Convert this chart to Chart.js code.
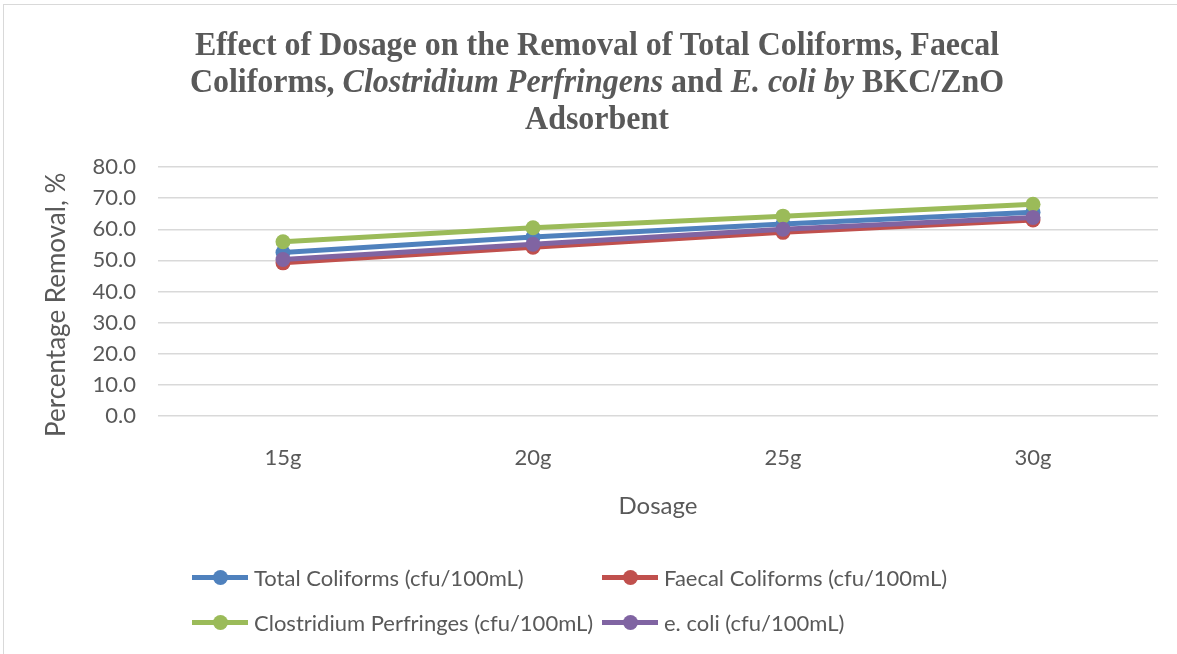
<!DOCTYPE html>
<html>
<head>
<meta charset="utf-8">
<script src="https://cdn.jsdelivr.net/npm/chart.js@4"></script>
<style>
  html, body { margin: 0; padding: 0; background: #fff; }
  #wrap { position: relative; width: 1177px; height: 654px; overflow: hidden; }
  #frame { position: absolute; left: 3px; top: 4px; right: -10px; bottom: -10px;
           border-top: 1.5px solid #d9d9d9; border-left: 1.5px solid #d9d9d9; }
  #chart { position: absolute; left: 0; top: 0; }
  #title { position: absolute; left: 597px; top: 25px; transform: translateX(-50%) scaleX(0.94);
           white-space: nowrap; text-align: center;
           font-family: "Liberation Serif", "Times New Roman", serif; font-weight: bold;
           font-size: 34px; line-height: 37px; color: #595959; }
  #legend { position: absolute; left: 192px; top: 562px; display: grid;
            grid-template-columns: 410px auto; row-gap: 15px;
            font-family: Lato, sans-serif; font-size: 22px; color: #595959; }
  .item { display: flex; align-items: center; height: 30px; white-space: nowrap; }
  .mark { position: relative; width: 56px; height: 5px; margin-right: 6px; }
  .mark .dot { position: absolute; left: 21px; top: -5px; width: 15px; height: 15px; border-radius: 50%; }
</style>
</head>
<body>
<div id="wrap">
  <div id="frame"></div>
  <canvas id="chart" width="1177" height="654"></canvas>
  <div id="title">Effect of Dosage on the Removal of Total Coliforms, Faecal<br>Coliforms, <i>Clostridium Perfringens</i> and <i>E. coli by</i> BKC/ZnO<br>Adsorbent</div>
  <div id="legend"></div>
</div>
<script>
// Dosage categories and percentage removal per organism
const dosages = ['15g', '20g', '25g', '30g'];
const totalColiforms = [52.5, 57.5, 61.7, 65.5];
const faecalColiforms = [49.2, 54.2, 59.0, 63.0];
const clostridium = [56.0, 60.5, 64.2, 68.0];
const eColi = [50.3, 55.2, 60.0, 63.8];

const seriesLabels = [
  'Total Coliforms (cfu/100mL)',
  'Faecal Coliforms (cfu/100mL)',
  'Clostridium Perfringes (cfu/100mL)',
  'e. coli (cfu/100mL)'
];
const seriesColors = ['#4F81BD', '#C0504D', '#9BBB59', '#8064A2'];
const seriesValues = [totalColiforms, faecalColiforms, clostridium, eColi];

const yMin = 0, yMax = 80, yStep = 10;

const textColor = '#595959';
const uiFont = 'Lato, sans-serif';

const datasets = seriesValues.map((vals, i) => ({
  label: seriesLabels[i],
  data: vals,
  borderColor: seriesColors[i],
  backgroundColor: seriesColors[i],
  pointBackgroundColor: seriesColors[i],
  pointBorderColor: seriesColors[i],
  borderWidth: 5,
  pointRadius: 7.5,
  pointBorderWidth: 0,
  pointHoverRadius: 7.5,
  tension: 0,
  fill: false,
  // later series are painted over earlier ones
  order: seriesValues.length - 1 - i
}));

const chart = new Chart(document.getElementById('chart'), {
  type: 'line',
  data: { labels: dosages, datasets },
  options: {
    responsive: false,
    animation: false,
    layout: { padding: { top: 167, left: 41, right: 19, bottom: 133 } },
    plugins: {
      legend: { display: false },
      title: { display: false },
      tooltip: { enabled: false }
    },
    scales: {
      x: {
        offset: true,
        grid: { display: false },
        border: { display: false },
        ticks: { color: textColor, font: { family: uiFont, size: 22 }, padding: 21 },
        title: { display: true, text: 'Dosage', color: textColor,
                 font: { family: uiFont, size: 24 }, padding: 0 },
        afterFit: s => { s.height = 105; }
      },
      y: {
        min: yMin, max: yMax,
        grid: { color: '#d9d9d9', lineWidth: 1.4, drawTicks: false },
        border: { display: false },
        ticks: { stepSize: yStep, color: textColor, font: { family: uiFont, size: 22 },
                 padding: 22, callback: v => Number(v).toFixed(1) },
        // trailing spaces nudge the rotated title slightly below the axis centre
        title: { display: true, text: 'Percentage Removal, %\u00a0\u00a0\u00a0\u00a0', color: textColor,
                 font: { family: uiFont, size: 26 }, padding: 0 },
        afterFit: s => { s.width = 117; }
      }
    }
  }
});

// Legend built from the chart's datasets, laid out in two columns
const legendEl = document.getElementById('legend');
chart.data.datasets.forEach(ds => {
  const item = document.createElement('div');
  item.className = 'item';
  const mark = document.createElement('span');
  mark.className = 'mark';
  mark.style.background = ds.borderColor;
  const dot = document.createElement('span');
  dot.className = 'dot';
  dot.style.background = ds.borderColor;
  mark.appendChild(dot);
  const txt = document.createElement('span');
  txt.textContent = ds.label;
  item.appendChild(mark);
  item.appendChild(txt);
  legendEl.appendChild(item);
});
</script>
</body>
</html>
